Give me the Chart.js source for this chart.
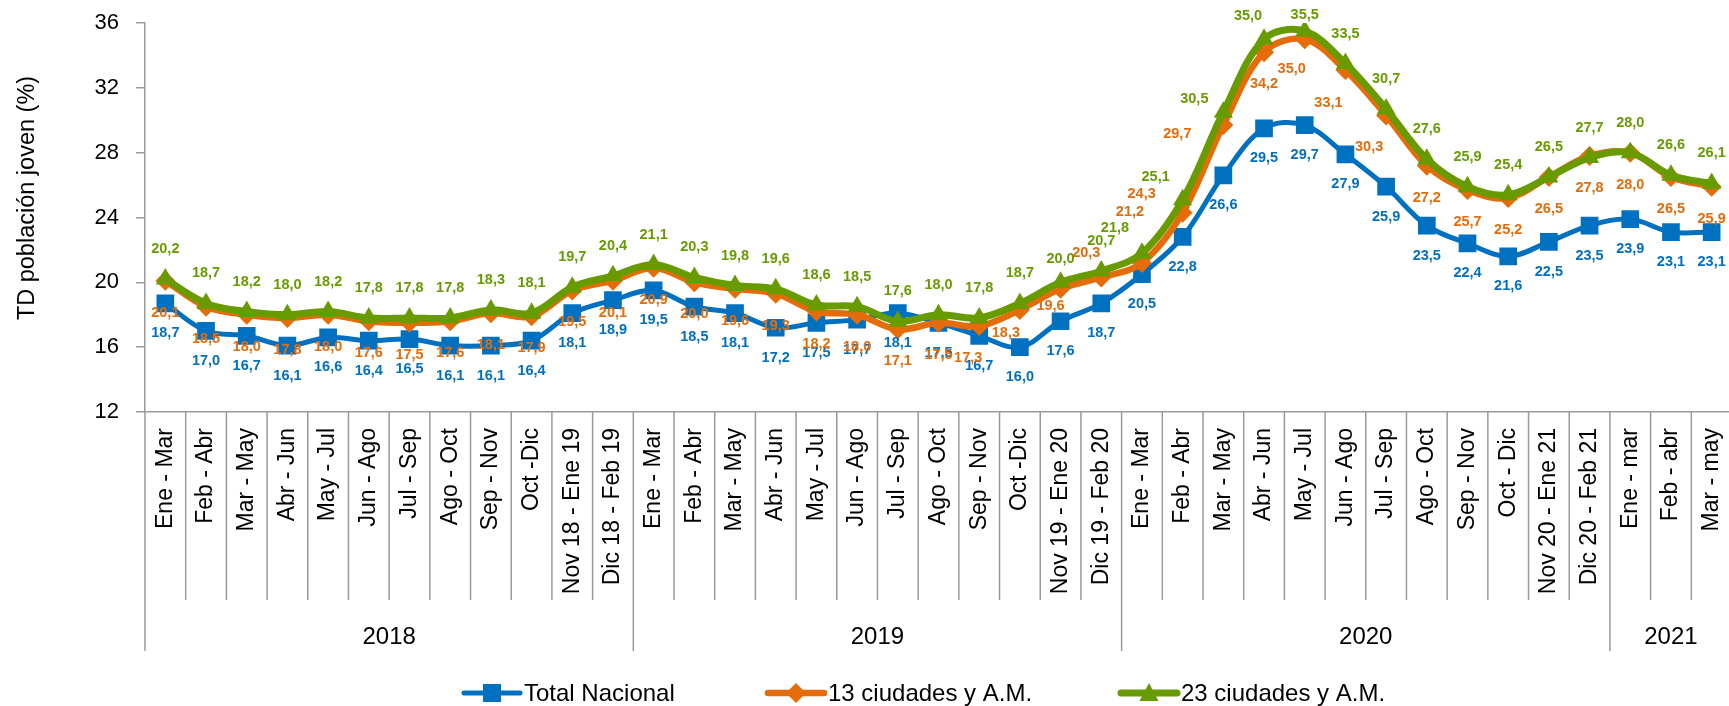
<!DOCTYPE html>
<html lang="es">
<head>
<meta charset="utf-8">
<title>TD población joven</title>
<script src="https://cdn.jsdelivr.net/npm/chart.js@4.4.1/dist/chart.umd.min.js"></script>
<style>
  html, body { margin: 0; padding: 0; background: #fff; overflow: hidden; }
  #wrap { width: 1729px; height: 706px; }
</style>
</head>
<body>
<div id="wrap"><canvas id="tdChart" width="1729" height="706"></canvas></div>
<script>
// Periodos (trimestre móvil) y años
const periodos = [
  'Ene - Mar', 'Feb - Abr', 'Mar - May', 'Abr - Jun', 'May - Jul', 'Jun - Ago',
  'Jul - Sep', 'Ago - Oct', 'Sep - Nov', 'Oct -Dic', 'Nov 18 - Ene 19', 'Dic 18 - Feb 19',
  'Ene - Mar', 'Feb - Abr', 'Mar - May', 'Abr - Jun', 'May - Jul', 'Jun - Ago',
  'Jul - Sep', 'Ago - Oct', 'Sep - Nov', 'Oct -Dic', 'Nov 19 - Ene 20', 'Dic 19 - Feb 20',
  'Ene - Mar', 'Feb - Abr', 'Mar - May', 'Abr - Jun', 'May - Jul', 'Jun - Ago',
  'Jul - Sep', 'Ago - Oct', 'Sep - Nov', 'Oct - Dic', 'Nov 20 - Ene 21', 'Dic 20 - Feb 21',
  'Ene - mar', 'Feb - abr', 'Mar - may'
];
const anios = ['2018', '2019', '2020', '2021'];
const periodosPorAnio = [12, 12, 12, 3];

// Series
const totalNacional = [
  18.7, 17.0, 16.7, 16.1, 16.6, 16.4, 16.5, 16.1, 16.1, 16.4, 18.1, 18.9,
  19.5, 18.5, 18.1, 17.2, 17.5, 17.7, 18.1, 17.5, 16.7, 16.0, 17.6, 18.7,
  20.5, 22.8, 26.6, 29.5, 29.7, 27.9, 25.9, 23.5, 22.4, 21.6, 22.5, 23.5,
  23.9, 23.1, 23.1
];
const trece = [
  20.1, 18.5, 18.0, 17.8, 18.0, 17.6, 17.5, 17.6, 18.1, 17.9, 19.5, 20.1,
  20.9, 20.0, 19.6, 19.3, 18.2, 18.0, 17.1, 17.5, 17.3, 18.3, 19.6, 20.3,
  21.2, 24.3, 29.7, 34.2, 35.0, 33.1, 30.3, 27.2, 25.7, 25.2, 26.5, 27.8,
  28.0, 26.5, 25.9
];
const veintitres = [
  20.2, 18.7, 18.2, 18.0, 18.2, 17.8, 17.8, 17.8, 18.3, 18.1, 19.7, 20.4,
  21.1, 20.3, 19.8, 19.6, 18.6, 18.5, 17.6, 18.0, 17.8, 18.7, 20.0, 20.7,
  21.8, 25.1, 30.5, 35.0, 35.5, 33.5, 30.7, 27.6, 25.9, 25.4, 26.5, 27.7,
  28.0, 26.6, 26.1
];
const ticksY = { min: 12, max: 36, paso: 4 };

const AZUL = '#0070C0';
const NARANJA = '#E46C0A';
const VERDE = '#679B00';
const GRIS = '#9a9a9a';

// etiquetas movidas a mano en el original (índice -> [dx, dy])
const ajusteNaranja = {
  20: [-11, 32], 21: [-14, 23], 22: [-10, 17], 23: [-15, -24], 24: [-12, -51],
  25: [-41, -19], 26: [-46, 9], 28: [-13, 30], 29: [-17, 33], 30: [-17, 32]
};
const ajusteVerde = {
  22: [0, -23], 24: [-27, -25], 25: [-27, -23], 26: [-29, -13], 27: [-16, -23]
};

function formato(v) {
  return v.toFixed(1).replace('.', ',');
}

// El área del gráfico llega hasta el borde derecho, como en el original
const ajusteArea = {
  id: 'ajusteArea',
  afterLayout(chart) {
    const x = chart.scales.x;
    const derecha = chart.width + 3;
    x.right = derecha;
    x.width = derecha - x.left;
    chart.chartArea.right = derecha;
    chart.chartArea.width = derecha - chart.chartArea.left;
    x.configure();
  }
};

// Etiquetas de datos
const etiquetasDatos = {
  id: 'etiquetasDatos',
  afterDatasetsDraw(chart) {
    const ctx = chart.ctx;
    ctx.save();
    ctx.font = 'bold 14.5px "Liberation Sans"';
    ctx.textAlign = 'center';
    ctx.textBaseline = 'middle';
    chart.data.datasets.forEach((ds, d) => {
      const meta = chart.getDatasetMeta(d);
      meta.data.forEach((pt, i) => {
        const aj = (ds.ajustes && ds.ajustes[i]) || [0, ds.desplazamiento];
        let y = pt.y + aj[1];
        if (y < 15) y = 15;
        ctx.fillStyle = ds.borderColor;
        ctx.fillText(formato(ds.data[i]), pt.x + aj[0], y);
      });
    });
    ctx.restore();
  }
};

// Separadores de categorías, años, título del eje y leyenda
const decoracion = {
  id: 'decoracion',
  afterDraw(chart) {
    const ctx = chart.ctx;
    const area = chart.chartArea;
    const paso = (area.right - area.left) / periodos.length;
    const limites = [0];
    periodosPorAnio.forEach(n => limites.push(limites[limites.length - 1] + n));

    ctx.save();
    ctx.strokeStyle = GRIS;
    ctx.lineWidth = 1.5;
    for (let i = 0; i <= periodos.length; i++) {
      const px = area.left + i * paso;
      const fin = limites.includes(i) ? area.bottom + 239 : area.bottom + 188;
      ctx.beginPath();
      ctx.moveTo(px, area.bottom);
      ctx.lineTo(px, fin);
      ctx.stroke();
    }

    ctx.fillStyle = '#000';
    ctx.font = '24px "Liberation Sans"';
    ctx.textAlign = 'center';
    ctx.textBaseline = 'middle';
    anios.forEach((a, k) => {
      const cx = area.left + (limites[k] + limites[k + 1]) / 2 * paso;
      ctx.fillText(a, cx, area.bottom + 225);
    });

    // título eje Y
    ctx.save();
    ctx.translate(28, 198);
    ctx.rotate(-Math.PI / 2);
    ctx.font = '23.5px "Liberation Sans"';
    ctx.fillText('TD población joven (%)', 0, 0);
    ctx.restore();

    // leyenda
    const inicios = [464, 768, 1121];
    const yL = 693;
    ctx.font = '24px "Liberation Sans"';
    ctx.textAlign = 'left';
    chart.data.datasets.forEach((ds, d) => {
      const x0 = inicios[d];
      const x1 = x0 + 56;
      ctx.strokeStyle = ds.borderColor;
      ctx.lineWidth = ds.borderWidth;
      ctx.lineCap = 'round';
      ctx.beginPath();
      ctx.moveTo(x0, yL);
      ctx.lineTo(x1, yL);
      ctx.stroke();
      dibujarMarcador(ctx, ds.pointStyle, (x0 + x1) / 2, yL, ds.borderColor);
      ctx.fillStyle = '#000';
      ctx.fillText(ds.label, x1 + 4, yL + 1);
    });
    ctx.restore();
  }
};

function dibujarMarcador(ctx, estilo, x, y, color) {
  ctx.fillStyle = color;
  ctx.beginPath();
  if (estilo === 'rect') {
    ctx.rect(x - 9, y - 9, 18, 18);
  } else if (estilo === 'rectRot') {
    ctx.moveTo(x, y - 10); ctx.lineTo(x + 10, y); ctx.lineTo(x, y + 10); ctx.lineTo(x - 10, y);
  } else {
    ctx.moveTo(x, y - 10); ctx.lineTo(x + 9.5, y + 8); ctx.lineTo(x - 9.5, y + 8);
  }
  ctx.closePath();
  ctx.fill();
}

const ctx = document.getElementById('tdChart').getContext('2d');
new Chart(ctx, {
  type: 'line',
  data: {
    labels: periodos,
    datasets: [
      {
        label: 'Total Nacional',
        data: totalNacional,
        borderColor: AZUL,
        backgroundColor: AZUL,
        borderWidth: 5,
        pointStyle: 'rect',
        pointRadius: 12.5,
        pointBorderWidth: 0,
        tension: 0.35,
        order: 3,
        desplazamiento: 30
      },
      {
        label: '13 ciudades y A.M.',
        data: trece,
        borderColor: NARANJA,
        backgroundColor: NARANJA,
        borderWidth: 6.5,
        pointStyle: 'rectRot',
        pointRadius: 10,
        pointBorderWidth: 0,
        tension: 0.35,
        order: 2,
        desplazamiento: 32,
        ajustes: ajusteNaranja
      },
      {
        label: '23 ciudades y A.M.',
        data: veintitres,
        borderColor: VERDE,
        backgroundColor: VERDE,
        borderWidth: 7,
        pointStyle: 'triangle',
        pointRadius: 11,
        pointBorderWidth: 0,
        tension: 0.35,
        order: 1,
        desplazamiento: -30,
        ajustes: ajusteVerde
      }
    ]
  },
  options: {
    responsive: false,
    animation: false,
    layout: { padding: { top: 23, right: 0, left: 0, bottom: 0 } },
    plugins: {
      legend: { display: false },
      tooltip: { enabled: false }
    },
    scales: {
      x: {
        offset: true,
        grid: { display: false, drawTicks: false },
        border: { display: true, color: GRIS, width: 1.5 },
        ticks: {
          autoSkip: false,
          minRotation: 90,
          maxRotation: 90,
          padding: 16,
          color: '#000',
          font: { family: 'Liberation Sans', size: 23 }
        },
        afterFit(scale) {
          scale.height = 294;
          scale.paddingLeft = 0;
          scale.paddingRight = 0;
        }
      },
      y: {
        min: ticksY.min,
        max: ticksY.max,
        grid: { drawOnChartArea: false, drawTicks: true, tickLength: 9, color: GRIS, lineWidth: 1.5 },
        border: { display: true, color: GRIS, width: 1.5 },
        ticks: {
          stepSize: ticksY.paso,
          padding: 17,
          color: '#000',
          font: { family: 'Liberation Sans', size: 22 }
        },
        afterFit(scale) {
          scale.width = 145;
          scale.paddingTop = 0;
          scale.paddingBottom = 0;
        }
      }
    }
  },
  plugins: [ajusteArea, etiquetasDatos, decoracion]
});
</script>
</body>
</html>
